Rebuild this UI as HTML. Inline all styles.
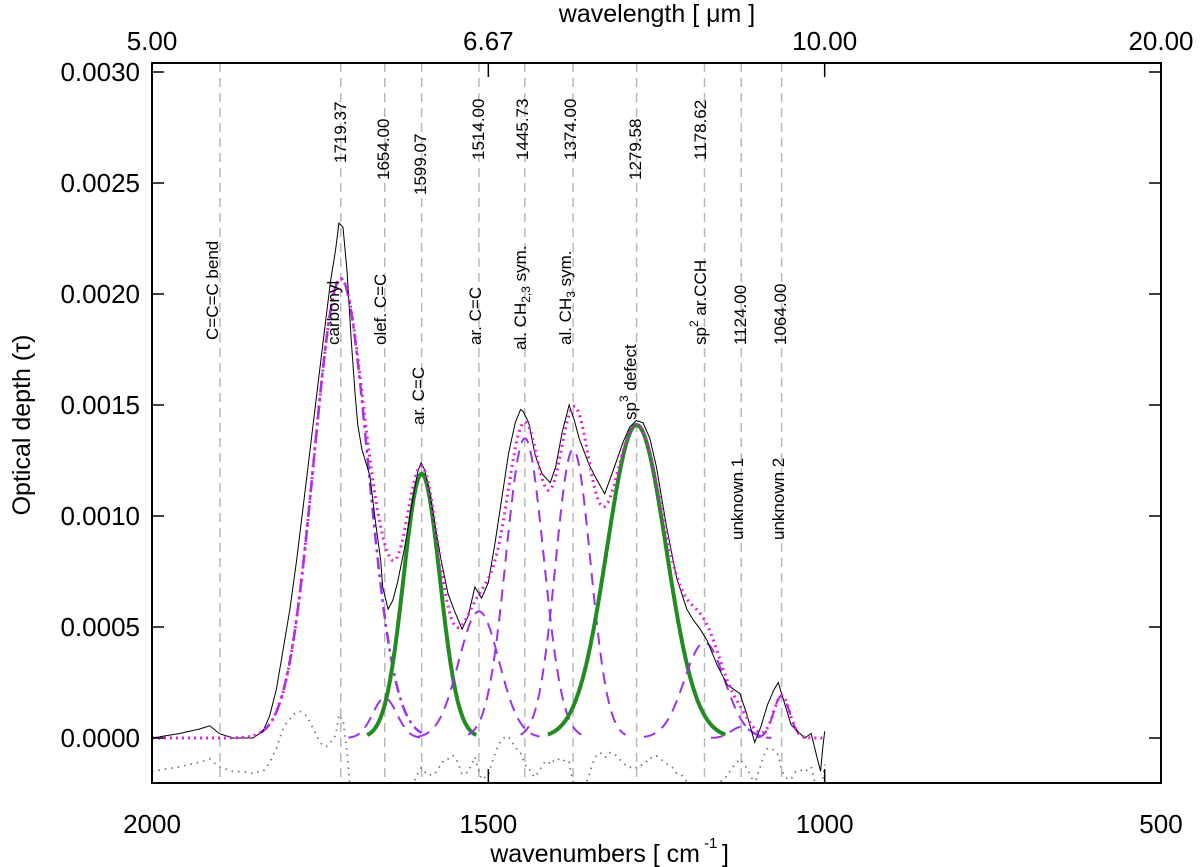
<!DOCTYPE html>
<html><head><meta charset="utf-8"><style>
html,body{margin:0;padding:0;background:#fff;}
svg{display:block;font-family:"Liberation Sans",sans-serif;}
</style></head><body>
<svg id="chart" width="1200" height="867" viewBox="0 0 1200 867" xmlns="http://www.w3.org/2000/svg">
<defs><clipPath id="pc"><rect x="152" y="63" width="1009" height="720"/></clipPath></defs>
<g id="plot"></g>
</svg>
<script>
// ---------- data ----------
const obsWn = [2000,1960,1930,1914,1900,1880,1850,1835,1825,1815,1805,1795,1785,1775,1765,1755,1745,1735,1727,1722,1716,1710,1704,1698,1694,1688,1680,1676,1668,1660,1657,1649,1642,1635,1625,1615,1605,1600,1595,1588,1580,1570,1560,1550,1539,1530,1520,1510,1500,1490,1480,1470,1460,1452,1448,1440,1430,1420,1408,1400,1390,1380,1372,1365,1350,1340,1327,1315,1300,1290,1280,1270,1260,1250,1235,1220,1205,1195,1185,1175,1160,1145,1126,1115,1104,1095,1085,1075,1069,1060,1050,1040,1030,1020,1012,1006,1003,1000];
const obsTau = [0.0000,0.00002,0.00004,0.000055,0.00002,0.0,0.0,0.00003,0.0001,0.00022,0.0004,0.00058,0.0008,0.00105,0.0013,0.00155,0.0018,0.00205,0.0022,0.00232,0.0023,0.0021,0.0018,0.00155,0.00141,0.0013,0.00122,0.00118,0.00098,0.0008,0.00068,0.00058,0.00062,0.0007,0.00085,0.00103,0.0012,0.00124,0.00121,0.00112,0.00097,0.0008,0.00065,0.00057,0.00049,0.00055,0.00068,0.00063,0.0007,0.00088,0.00108,0.00128,0.00142,0.00148,0.00147,0.00142,0.00127,0.00119,0.00115,0.00122,0.00138,0.0015,0.00143,0.00135,0.00123,0.00117,0.0011,0.0012,0.00133,0.0014,0.00143,0.00142,0.00135,0.00122,0.00095,0.00072,0.00058,0.00053,0.00049,0.00044,0.00033,0.00024,0.0002,0.0001,-0.00002,0.00005,0.00015,0.00022,0.00025,0.00016,0.00006,0.00003,0.0,0.00002,-0.00008,-0.00015,-0.00005,0.00003];
const compCenters = [1719.37,1654.00,1599.07,1514.00,1445.73,1374.00,1279.58,1178.62,1124.00,1064.00];
const compAmps    = [0.00207,0.00018,0.00119,0.00057,0.00135,0.00130,0.00141,0.00043,0.00005,0.00019];
const compSigmas  = [40,18,27,30,28,26,44,30,15,12];
const compKinds   = ["dashdot","dashed","green","dashed","dashed","dashed","green","dashed","dashed","dashed"];
const lineWn = [1899,1719.37,1654.00,1599.07,1514.00,1445.73,1374.00,1279.58,1178.62,1124.00,1064.00];
const yTicks = [0.0000,0.0005,0.0010,0.0015,0.0020,0.0025,0.0030];
const yTickLabels = ["0.0000","0.0005","0.0010","0.0015","0.0020","0.0025","0.0030"];
const xTicks = [2000,1500,1000,500];
const xTickLabels = ["2000","1500","1000","500"];
const topTicks = [2000,1500,1000,500];
const topTickLabels = ["5.00","6.67","10.00","20.00"];
const residualOffset = -0.00015;

// ---------- axes ----------
const L=152,R=1161,T=63,B=783;
const X = wn => L + (2000-wn)*(R-L)/1500;
const Y = v => 738 - v*222000;
const NS="http://www.w3.org/2000/svg";
const plot=document.getElementById('plot');
function mk(tag,attrs,parent){const e=document.createElementNS(NS,tag);for(const k in attrs)e.setAttribute(k,attrs[k]);(parent||plot).appendChild(e);return e;}
function interpObs(wn){for(let i=0;i<obsWn.length-1;i++){if(wn<=obsWn[i]&&wn>=obsWn[i+1]){const t=(obsWn[i]-wn)/(obsWn[i]-obsWn[i+1]);return obsTau[i]+t*(obsTau[i+1]-obsTau[i]);}}return 0;}
function gauss(i,wn){const d=(wn-compCenters[i])/compSigmas[i];return compAmps[i]*Math.exp(-0.5*d*d);}
function fit(wn){let s=0;for(let i=0;i<compCenters.length;i++)s+=gauss(i,wn);return s;}

const clipG=mk('g',{'clip-path':'url(#pc)'});



lineWn.forEach(w=>{
  const l=mk('line',{x1:X(w),x2:X(w),y1:T,y2:B,stroke:'#b8b8b8','stroke-width':1.5,'stroke-dasharray':'9,6'},clipG);
  
  
});

{let d='';for(let w=2000;w>=1000;w-=2){d+=(w===2000?'M':'L')+X(w).toFixed(1)+','+Y(interpObs(w)-fit(w)+residualOffset).toFixed(1);}
const p=mk('path',{d:d,fill:'none',stroke:'#777','stroke-width':1.8,'stroke-dasharray':'1.5,5'},clipG);

}

compCenters.forEach((c,i)=>{
  const s=compSigmas[i];const w0=Math.min(2000,c+3*s),w1=c-3*s;let d='';
  for(let w=w0;w>=w1;w-=1){d+=(w===w0?'M':'L')+X(w).toFixed(1)+','+Y(gauss(i,w)).toFixed(1);}
  let attrs;
  if(compKinds[i]==='green')attrs={stroke:'#228b22','stroke-width':4};
  else if(compKinds[i]==='dashdot')attrs={stroke:'#9933ee','stroke-width':2.5,'stroke-dasharray':'12,5,3,5'};
  else attrs={stroke:'#9933ee','stroke-width':2,'stroke-dasharray':'12,8'};
  attrs.d=d;attrs.fill='none';
  const p=mk('path',attrs,clipG);
  
  
});

{let d='';obsWn.forEach((w,i)=>{d+=(i?'L':'M')+X(w).toFixed(1)+','+Y(obsTau[i]).toFixed(1);});
const p=mk('path',{d:d,fill:'none',stroke:'#000','stroke-width':1},clipG);

}

{let d='';for(let w=2000;w>=1000;w-=1){d+=(w===2000?'M':'L')+X(w).toFixed(1)+','+Y(fit(w)).toFixed(1);}
const p=mk('path',{d:d,fill:'none',stroke:'#e020e0','stroke-width':3,'stroke-dasharray':'2,4'},clipG);

}

{const f=mk('rect',{x:L,y:T,width:R-L,height:B-T,fill:'none',stroke:'#000','stroke-width':2});

}

yTicks.forEach((v,i)=>{
  mk('line',{x1:L,x2:L+12,y1:Y(v),y2:Y(v),stroke:'#000','stroke-width':1.5});
  mk('line',{x1:R-12,x2:R,y1:Y(v),y2:Y(v),stroke:'#000','stroke-width':1.5});
  const t=mk('text',{x:140,y:Y(v)+9,'text-anchor':'end','font-size':26,fill:'#000'});
  t.textContent=yTickLabels[i];
  
  
});
xTicks.forEach((w,i)=>{
  mk('line',{x1:X(w),x2:X(w),y1:B,y2:B-14,stroke:'#000','stroke-width':1.5});
  const t=mk('text',{x:X(w),y:833,'text-anchor':'middle','font-size':26,fill:'#000'});
  t.textContent=xTickLabels[i];
  
  
});
topTicks.forEach((w,i)=>{
  mk('line',{x1:X(w),x2:X(w),y1:T,y2:T+14,stroke:'#000','stroke-width':1.5});
  const t=mk('text',{x:X(w),y:50,'text-anchor':'middle','font-size':26,fill:'#000'});
  t.textContent=topTickLabels[i];
  
  
});
</script>
<script>
(function(){
const NS="http://www.w3.org/2000/svg";
const svg=document.getElementById('chart');
const labels=[
 ["1719.37",340,163],["1654.00",383,180],["1599.07",420,195],["1514.00",478,160],["1445.73",522,160],["1374.00",570,160],["1279.58",635,180],["1178.62",700,160],["1124.00",740,345],["1064.00",780,345],
 ["C=C=C bend",212,340],["carbonyl",333,345],["olef.  C=C",380,345],["ar. C=C",418,425],["ar. C=C",475,345],["al. CH|2,3| sym.",520,350],["al. CH|3| sym.",565,345],["sp^3^ defect",630,420],["sp^2^ ar.CCH",700,345],["unknown  1",737,540],["unknown  2",778,540]
];
labels.forEach(([txt,cx,yb])=>{
  const t=document.createElementNS(NS,'text');
  t.setAttribute('transform','translate('+(cx+6)+','+yb+') rotate(-90)');
  t.setAttribute('font-size','17');
  t.setAttribute('fill','#000');
  
  
  const parts=txt.split(/(\|[^|]*\||\^[^^]*\^)/);
  parts.forEach(p=>{
    if(!p)return;
    const s=document.createElementNS(NS,'tspan');
    if(p[0]==='|'){s.textContent=p.slice(1,-1);s.setAttribute('font-size','12');s.setAttribute('baseline-shift','-4');}
    else if(p[0]==='^'){s.textContent=p.slice(1,-1);s.setAttribute('font-size','12');s.setAttribute('baseline-shift','8');}
    else s.textContent=p;
    t.appendChild(s);
  });
  svg.appendChild(t);
});
function addText(str,attrs,name){const t=document.createElementNS(NS,'text');for(const k in attrs)t.setAttribute(k,attrs[k]);t.textContent=str;svg.appendChild(t);return t;}
addText('wavenumbers [ cm',{x:700,y:862,'text-anchor':'end','font-size':25},'x-axis-title');
addText('-1',{x:704,y:848,'font-size':15},'x-axis-title-exponent');
addText(']',{x:722,y:862,'font-size':25},'x-axis-title-bracket');
addText('wavelength [ μm ]',{x:657,y:22,'text-anchor':'middle','font-size':25},'top-axis-title');
addText('Optical depth (τ)',{transform:'translate(30,425) rotate(-90)','text-anchor':'middle','font-size':25},'y-axis-title');
})();
</script>
</body></html>
